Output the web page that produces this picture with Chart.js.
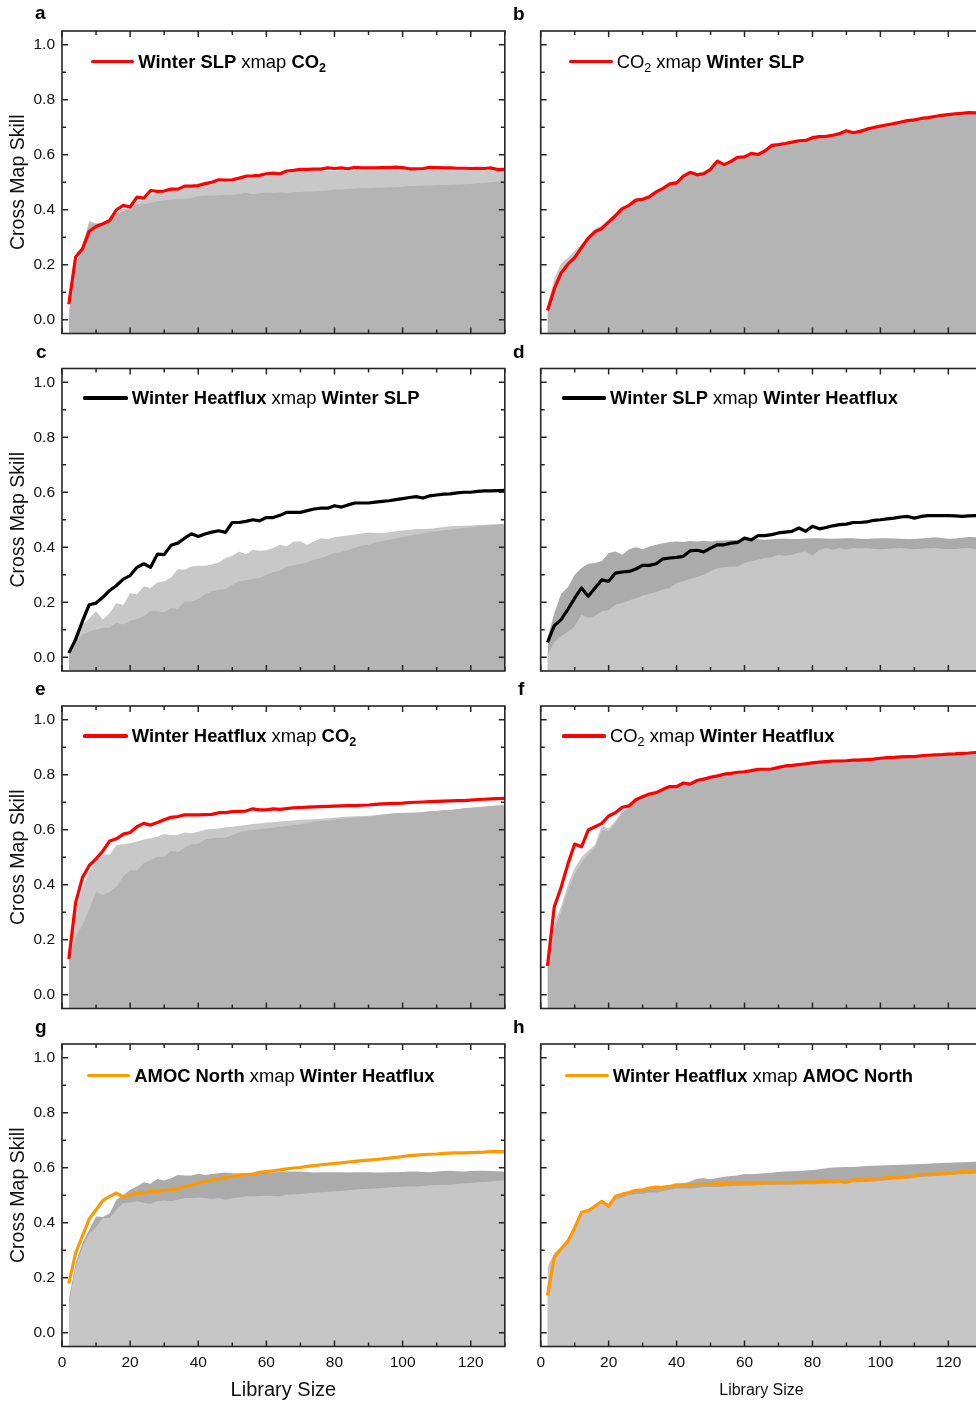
<!DOCTYPE html>
<html><head><meta charset="utf-8">
<script src="https://cdn.jsdelivr.net/npm/chart.js@4.4.1/dist/chart.umd.min.js"></script>
<style>
html,body{margin:0;padding:0;width:976px;height:1402px;overflow:hidden;background:#fff;font-family:"Liberation Sans",Arial,sans-serif;position:relative;}
canvas{position:absolute;}
.plet{position:absolute;font-weight:bold;font-size:19px;line-height:19px;color:#000;}
.sw{position:absolute;height:3.4px;border-radius:1.5px;}
.legt{position:absolute;font-size:18.4px;line-height:18px;white-space:nowrap;color:#000;}
.legt b{font-weight:bold;}
.legt sub{font-size:12.5px;line-height:0;vertical-align:-4px;}
</style></head>
<body>
<script>
// ---------- DATA ----------
const libSizes = [2,4,6,8,10,12,14,16,18,20,22,24,26,28,30,32,34,36,38,40,42,44,46,48,50,52,54,56,58,60,62,64,66,68,70,72,74,76,78,80,82,84,86,88,90,92,94,96,98,100,102,104,106,108,110,112,114,116,118,120,122,124,126,128,130];
const xTickLabels = [0,20,40,60,80,100,120];
const xMinorTicks = [10,30,50,70,90,110,130];
const yTickLabels = [0,0.2,0.4,0.6,0.8,1.0];
const yMinorTicks = [0.1,0.3,0.5,0.7,0.9];

// a: Winter SLP xmap CO2
const aLine = [0.056,0.228,0.258,0.322,0.339,0.349,0.361,0.400,0.416,0.410,0.446,0.442,0.470,0.467,0.468,0.475,0.475,0.486,0.486,0.488,0.495,0.500,0.509,0.508,0.509,0.515,0.522,0.523,0.525,0.531,0.533,0.531,0.541,0.543,0.547,0.547,0.548,0.548,0.552,0.550,0.552,0.549,0.554,0.552,0.552,0.552,0.553,0.553,0.555,0.553,0.549,0.549,0.550,0.554,0.553,0.552,0.552,0.551,0.551,0.550,0.551,0.550,0.552,0.546,0.547];
const aBack = [0.03,0.20,0.27,0.36,0.35,0.35,0.36,0.39,0.405,0.405,0.43,0.435,0.455,0.46,0.46,0.47,0.47,0.48,0.48,0.483,0.49,0.495,0.50,0.50,0.503,0.51,0.515,0.517,0.52,0.523,0.525,0.527,0.533,0.537,0.54,0.54,0.54,0.541,0.542,0.542,0.543,0.543,0.544,0.545,0.545,0.545,0.546,0.546,0.547,0.546,0.545,0.545,0.545,0.546,0.546,0.546,0.546,0.545,0.545,0.545,0.545,0.545,0.545,0.542,0.542];
const aFront = [0.0,0.19,0.27,0.35,0.35,0.35,0.365,0.385,0.395,0.405,0.418,0.42,0.425,0.43,0.435,0.437,0.44,0.44,0.442,0.45,0.452,0.452,0.453,0.455,0.455,0.456,0.462,0.456,0.46,0.462,0.462,0.464,0.462,0.465,0.465,0.466,0.466,0.468,0.47,0.474,0.474,0.476,0.476,0.479,0.478,0.48,0.48,0.482,0.482,0.484,0.486,0.486,0.488,0.488,0.49,0.49,0.491,0.492,0.493,0.494,0.496,0.497,0.5,0.502,0.503];

// b: CO2 xmap Winter SLP
const bLine = [0.034,0.112,0.17,0.202,0.226,0.262,0.297,0.32,0.332,0.355,0.379,0.404,0.416,0.435,0.438,0.447,0.465,0.478,0.494,0.498,0.522,0.536,0.527,0.531,0.547,0.577,0.564,0.576,0.591,0.592,0.605,0.601,0.614,0.634,0.637,0.641,0.646,0.651,0.652,0.662,0.666,0.667,0.671,0.677,0.687,0.68,0.685,0.693,0.699,0.704,0.709,0.713,0.719,0.724,0.727,0.732,0.735,0.739,0.743,0.746,0.749,0.751,0.753,0.752,0.753];
const bBack = [0.05,0.15,0.205,0.225,0.25,0.275,0.305,0.33,0.345,0.365,0.385,0.405,0.42,0.44,0.442,0.455,0.47,0.483,0.497,0.505,0.525,0.54,0.535,0.54,0.552,0.578,0.57,0.58,0.594,0.596,0.607,0.605,0.617,0.636,0.64,0.644,0.649,0.654,0.656,0.665,0.669,0.67,0.674,0.68,0.689,0.683,0.688,0.696,0.702,0.707,0.712,0.716,0.722,0.727,0.73,0.735,0.738,0.742,0.746,0.749,0.752,0.754,0.756,0.756,0.757];
const bFront = [0.02,0.10,0.16,0.195,0.22,0.255,0.29,0.315,0.328,0.35,0.375,0.4,0.412,0.43,0.434,0.443,0.46,0.474,0.49,0.494,0.518,0.53,0.523,0.527,0.543,0.572,0.56,0.572,0.587,0.588,0.601,0.597,0.61,0.63,0.633,0.637,0.642,0.647,0.648,0.658,0.662,0.663,0.667,0.673,0.683,0.676,0.681,0.689,0.695,0.7,0.705,0.709,0.715,0.72,0.723,0.728,0.731,0.735,0.739,0.742,0.745,0.747,0.749,0.748,0.749];

// c: Winter Heatflux xmap Winter SLP
const cLine = [0.016,0.065,0.131,0.191,0.197,0.218,0.243,0.261,0.284,0.297,0.327,0.34,0.327,0.375,0.373,0.407,0.415,0.433,0.449,0.439,0.448,0.455,0.46,0.454,0.49,0.49,0.494,0.50,0.496,0.508,0.508,0.516,0.527,0.527,0.527,0.533,0.539,0.542,0.542,0.551,0.546,0.554,0.561,0.561,0.561,0.564,0.567,0.569,0.573,0.577,0.581,0.584,0.579,0.587,0.59,0.593,0.594,0.598,0.60,0.60,0.603,0.605,0.605,0.606,0.607];
const cBack = [0.01,0.085,0.12,0.14,0.167,0.137,0.16,0.197,0.19,0.234,0.228,0.258,0.252,0.272,0.276,0.29,0.32,0.318,0.33,0.333,0.333,0.337,0.345,0.361,0.369,0.385,0.375,0.391,0.387,0.389,0.397,0.409,0.403,0.421,0.421,0.409,0.421,0.433,0.43,0.436,0.44,0.443,0.446,0.45,0.454,0.452,0.452,0.455,0.458,0.461,0.463,0.466,0.466,0.467,0.47,0.474,0.476,0.477,0.478,0.479,0.481,0.482,0.483,0.484,0.485];
const cFront = [0.004,0.055,0.082,0.094,0.10,0.107,0.107,0.125,0.119,0.133,0.139,0.149,0.167,0.167,0.163,0.179,0.176,0.203,0.203,0.212,0.228,0.24,0.246,0.246,0.264,0.276,0.28,0.285,0.288,0.30,0.309,0.315,0.33,0.334,0.34,0.345,0.355,0.361,0.369,0.379,0.383,0.39,0.397,0.406,0.409,0.418,0.422,0.427,0.433,0.437,0.441,0.446,0.45,0.455,0.458,0.462,0.464,0.467,0.47,0.472,0.476,0.478,0.481,0.483,0.485];

// d: Winter SLP xmap Winter Heatflux
const dLine = [0.054,0.115,0.137,0.174,0.215,0.252,0.222,0.252,0.282,0.276,0.306,0.31,0.312,0.321,0.334,0.334,0.34,0.358,0.361,0.363,0.367,0.387,0.389,0.383,0.397,0.409,0.409,0.415,0.418,0.433,0.427,0.442,0.442,0.446,0.452,0.455,0.458,0.47,0.458,0.476,0.467,0.472,0.478,0.482,0.484,0.49,0.49,0.492,0.498,0.50,0.503,0.506,0.51,0.512,0.506,0.512,0.515,0.515,0.515,0.515,0.514,0.512,0.514,0.515,0.515];
const dBack = [0.07,0.16,0.23,0.255,0.30,0.325,0.34,0.343,0.35,0.379,0.385,0.373,0.393,0.40,0.393,0.403,0.409,0.415,0.419,0.421,0.419,0.423,0.421,0.424,0.421,0.425,0.425,0.426,0.427,0.428,0.43,0.429,0.427,0.429,0.431,0.431,0.43,0.43,0.432,0.433,0.433,0.432,0.431,0.432,0.433,0.433,0.431,0.43,0.432,0.433,0.433,0.432,0.431,0.43,0.43,0.432,0.434,0.436,0.434,0.431,0.432,0.435,0.437,0.436,0.436];
const dFront = [0.01,0.055,0.076,0.092,0.113,0.155,0.143,0.151,0.167,0.171,0.191,0.197,0.206,0.215,0.225,0.231,0.237,0.246,0.252,0.27,0.276,0.285,0.292,0.30,0.315,0.324,0.327,0.33,0.33,0.343,0.349,0.355,0.361,0.364,0.373,0.369,0.373,0.381,0.385,0.37,0.39,0.397,0.391,0.397,0.391,0.397,0.396,0.397,0.395,0.393,0.395,0.396,0.397,0.395,0.393,0.395,0.396,0.397,0.395,0.393,0.394,0.396,0.397,0.393,0.394];

// e: Winter Heatflux xmap CO2
const eLine = [0.13,0.335,0.426,0.47,0.494,0.523,0.559,0.567,0.584,0.59,0.611,0.623,0.617,0.626,0.636,0.645,0.648,0.654,0.654,0.654,0.655,0.656,0.662,0.662,0.666,0.667,0.668,0.676,0.672,0.672,0.676,0.674,0.677,0.68,0.681,0.682,0.683,0.684,0.685,0.686,0.687,0.688,0.688,0.689,0.69,0.692,0.694,0.695,0.696,0.697,0.699,0.70,0.701,0.702,0.703,0.704,0.705,0.706,0.706,0.708,0.71,0.711,0.712,0.713,0.714];
const eBack = [0.15,0.30,0.39,0.45,0.48,0.51,0.51,0.545,0.547,0.551,0.557,0.565,0.569,0.575,0.585,0.581,0.581,0.59,0.587,0.593,0.60,0.603,0.605,0.609,0.611,0.615,0.617,0.621,0.623,0.626,0.627,0.63,0.632,0.634,0.636,0.637,0.638,0.64,0.642,0.644,0.646,0.648,0.649,0.65,0.651,0.653,0.656,0.658,0.66,0.661,0.662,0.663,0.665,0.668,0.669,0.671,0.672,0.675,0.678,0.68,0.682,0.684,0.686,0.688,0.69];
const eFront = [0.12,0.21,0.254,0.31,0.375,0.363,0.375,0.393,0.43,0.454,0.452,0.478,0.49,0.502,0.502,0.524,0.518,0.535,0.548,0.548,0.565,0.569,0.571,0.571,0.581,0.59,0.596,0.60,0.602,0.605,0.607,0.611,0.614,0.617,0.62,0.624,0.63,0.632,0.634,0.636,0.639,0.642,0.644,0.646,0.648,0.651,0.654,0.657,0.66,0.661,0.662,0.662,0.664,0.666,0.668,0.671,0.672,0.675,0.678,0.68,0.682,0.684,0.686,0.688,0.69];

// f: CO2 xmap Winter Heatflux
const fLine = [0.105,0.32,0.39,0.475,0.548,0.538,0.599,0.611,0.623,0.65,0.662,0.682,0.687,0.709,0.72,0.73,0.735,0.747,0.757,0.757,0.77,0.766,0.779,0.784,0.791,0.796,0.802,0.805,0.809,0.811,0.815,0.82,0.82,0.821,0.827,0.832,0.834,0.837,0.84,0.843,0.846,0.848,0.85,0.85,0.851,0.853,0.853,0.855,0.857,0.86,0.862,0.863,0.865,0.866,0.866,0.869,0.871,0.872,0.873,0.875,0.876,0.878,0.879,0.881,0.882];
const fBack = [0.12,0.26,0.32,0.40,0.46,0.50,0.525,0.545,0.615,0.605,0.633,0.668,0.685,0.708,0.72,0.731,0.738,0.75,0.76,0.762,0.774,0.772,0.785,0.79,0.796,0.80,0.806,0.809,0.813,0.815,0.818,0.823,0.824,0.826,0.831,0.836,0.838,0.841,0.844,0.847,0.85,0.852,0.854,0.855,0.856,0.858,0.859,0.86,0.862,0.864,0.866,0.867,0.869,0.87,0.871,0.873,0.875,0.876,0.877,0.879,0.88,0.882,0.883,0.885,0.886];
const fFront = [0.10,0.24,0.30,0.38,0.44,0.48,0.51,0.535,0.60,0.595,0.625,0.66,0.68,0.703,0.715,0.725,0.73,0.743,0.753,0.753,0.766,0.762,0.775,0.78,0.787,0.792,0.798,0.801,0.805,0.807,0.811,0.816,0.816,0.817,0.823,0.828,0.83,0.833,0.836,0.839,0.842,0.844,0.846,0.846,0.847,0.849,0.849,0.851,0.853,0.856,0.858,0.859,0.861,0.862,0.862,0.865,0.867,0.868,0.869,0.871,0.872,0.874,0.875,0.877,0.878];

// g: AMOC North xmap Winter Heatflux
const gLine = [0.179,0.29,0.351,0.414,0.447,0.481,0.496,0.508,0.493,0.502,0.508,0.508,0.514,0.514,0.518,0.52,0.524,0.532,0.537,0.544,0.55,0.555,0.56,0.564,0.569,0.573,0.575,0.577,0.583,0.586,0.589,0.592,0.596,0.599,0.601,0.605,0.608,0.611,0.613,0.616,0.618,0.621,0.623,0.626,0.628,0.63,0.632,0.635,0.638,0.641,0.644,0.646,0.648,0.649,0.65,0.652,0.653,0.654,0.654,0.655,0.656,0.657,0.659,0.659,0.659];
const gBack = [0.12,0.254,0.326,0.375,0.423,0.421,0.435,0.484,0.502,0.52,0.532,0.547,0.542,0.559,0.554,0.562,0.574,0.572,0.572,0.578,0.574,0.577,0.58,0.583,0.58,0.579,0.58,0.581,0.582,0.583,0.584,0.585,0.586,0.586,0.586,0.585,0.583,0.584,0.584,0.584,0.584,0.583,0.584,0.584,0.584,0.583,0.583,0.584,0.584,0.585,0.586,0.586,0.585,0.584,0.586,0.588,0.589,0.587,0.586,0.588,0.589,0.589,0.588,0.587,0.586];
const gFront = [0.10,0.24,0.31,0.36,0.385,0.417,0.417,0.447,0.472,0.474,0.478,0.472,0.469,0.478,0.481,0.478,0.484,0.49,0.49,0.492,0.49,0.486,0.49,0.484,0.489,0.492,0.496,0.496,0.497,0.498,0.497,0.496,0.502,0.503,0.505,0.507,0.51,0.511,0.513,0.514,0.516,0.518,0.52,0.523,0.524,0.525,0.526,0.528,0.53,0.531,0.532,0.532,0.534,0.536,0.537,0.538,0.538,0.541,0.544,0.545,0.547,0.548,0.55,0.553,0.554];

// h: Winter Heatflux xmap AMOC North
const hLine = [0.135,0.274,0.305,0.333,0.381,0.438,0.444,0.46,0.478,0.46,0.496,0.504,0.51,0.518,0.52,0.526,0.53,0.529,0.532,0.538,0.538,0.538,0.54,0.54,0.54,0.542,0.542,0.544,0.544,0.544,0.544,0.544,0.545,0.546,0.546,0.546,0.546,0.548,0.549,0.549,0.55,0.55,0.551,0.551,0.546,0.556,0.556,0.556,0.559,0.56,0.564,0.565,0.565,0.567,0.571,0.576,0.576,0.577,0.578,0.58,0.581,0.587,0.585,0.586,0.586];
const hBack = [0.18,0.29,0.31,0.34,0.39,0.43,0.44,0.455,0.47,0.47,0.49,0.50,0.505,0.515,0.52,0.527,0.53,0.535,0.537,0.54,0.543,0.55,0.56,0.562,0.558,0.563,0.567,0.57,0.572,0.577,0.576,0.578,0.58,0.582,0.585,0.586,0.587,0.588,0.59,0.592,0.595,0.598,0.601,0.602,0.603,0.603,0.605,0.606,0.607,0.608,0.609,0.61,0.611,0.612,0.613,0.614,0.615,0.616,0.617,0.618,0.619,0.62,0.621,0.622,0.623];
const hFront = [0.24,0.29,0.31,0.335,0.385,0.43,0.44,0.455,0.47,0.465,0.485,0.49,0.50,0.505,0.505,0.51,0.51,0.515,0.52,0.525,0.525,0.525,0.526,0.53,0.53,0.53,0.532,0.533,0.534,0.535,0.535,0.536,0.537,0.537,0.538,0.538,0.539,0.539,0.54,0.54,0.541,0.542,0.543,0.544,0.545,0.546,0.547,0.548,0.55,0.552,0.555,0.557,0.558,0.56,0.563,0.566,0.568,0.57,0.572,0.574,0.575,0.576,0.577,0.578,0.58];

// ---------- STYLE / LAYOUT ----------
const RED = '#ff0000', BLACK = '#000000', ORANGE = '#ff9900';
const DARK = '#b4b4b4', LIGHT = '#c8c8c8', DARK2 = '#ababab', LIGHT2 = '#c6c6c6';
const rowTops = [31, 368.5, 706, 1044];
const AREA_H = 302.5;
const cols = [
  {canvasLeft:0, canvasW:520, axisW:62, padRight:15.2},
  {canvasLeft:500, canvasW:500, axisW:40.7, padRight:17.7}
];
const panels = [
  {id:'a', row:0, col:0, line:aLine, back:aBack, front:aFront, lc:RED, bc:LIGHT, fc:DARK},
  {id:'b', row:0, col:1, line:bLine, back:bBack, front:bFront, lc:RED, bc:LIGHT, fc:DARK},
  {id:'c', row:1, col:0, line:cLine, back:cBack, front:cFront, lc:BLACK, bc:LIGHT, fc:DARK},
  {id:'d', row:1, col:1, line:dLine, back:dBack, front:dFront, lc:BLACK, bc:DARK2, fc:LIGHT2},
  {id:'e', row:2, col:0, line:eLine, back:eBack, front:eFront, lc:RED, bc:LIGHT, fc:DARK},
  {id:'f', row:2, col:1, line:fLine, back:fBack, front:fFront, lc:RED, bc:LIGHT, fc:DARK},
  {id:'g', row:3, col:0, line:gLine, back:gBack, front:gFront, lc:ORANGE, bc:DARK2, fc:LIGHT2},
  {id:'h', row:3, col:1, line:hLine, back:hBack, front:hFront, lc:ORANGE, bc:DARK2, fc:LIGHT2}
];
const legends = {
  a:{x:90.7, y:61.7, tx:138.3, html:'<b>Winter SLP</b> xmap <b>CO<sub>2</sub></b>'},
  b:{x:569, y:61.7, tx:616.7, html:'CO<sub>2</sub> xmap <b>Winter SLP</b>'},
  c:{x:83, y:398, tx:131.7, html:'<b>Winter Heatflux</b> xmap <b>Winter SLP</b>'},
  d:{x:562, y:398, tx:610, html:'<b>Winter SLP</b> xmap <b>Winter Heatflux</b>'},
  e:{x:83, y:736, tx:131.7, html:'<b>Winter Heatflux</b> xmap <b>CO<sub>2</sub></b>'},
  f:{x:562, y:736, tx:610, html:'CO<sub>2</sub> xmap <b>Winter Heatflux</b>'},
  g:{x:87, y:1075.3, tx:134.3, html:'<b>AMOC North</b> xmap <b>Winter Heatflux</b>'},
  h:{x:565, y:1075.3, tx:612.7, html:'<b>Winter Heatflux</b> xmap <b>AMOC North</b>'}
};
const letters = {a:[35,19.3], b:[513,20], c:[36,358.3], d:[513,358.3], e:[35,695], f:[518,695], g:[35,1033], h:[513,1033.3]};

Chart.defaults.font.family = '"Liberation Sans", Arial, sans-serif';
Chart.defaults.color = '#111';

const frameTicks = {
  id:'frameTicks',
  afterDraw(chart){
    const {ctx, chartArea:{left,right,top,bottom}, scales:{x,y}} = chart;
    ctx.save();
    ctx.strokeStyle = '#262626';
    ctx.lineWidth = 1.5;
    ctx.beginPath();
    const xt = (vals, len) => vals.forEach(v => { const p = x.getPixelForValue(v);
      ctx.moveTo(p, bottom); ctx.lineTo(p, bottom - len); ctx.moveTo(p, top); ctx.lineTo(p, top + len); });
    const yt = (vals, len) => vals.forEach(v => { const p = y.getPixelForValue(v);
      ctx.moveTo(left, p); ctx.lineTo(left + len, p); ctx.moveTo(right, p); ctx.lineTo(right - len, p); });
    xt(xTickLabels, 6); xt(xMinorTicks, 4);
    yt(yTickLabels, 6); yt(yMinorTicks, 4);
    ctx.stroke();
    ctx.lineWidth = 1.6;
    ctx.strokeRect(left, top, right - left, bottom - top);
    ctx.restore();
  }
};

const pts = vals => libSizes.map((x, i) => ({x, y: vals[i]}));

panels.forEach(p => {
  const col = cols[p.col];
  const rowTop = rowTops[p.row];
  const canvasTop = Math.floor(rowTop) - 10;
  const padTop = rowTop - canvasTop;
  const bottomRow = p.row === 3;
  const H = bottomRow ? 1402 - canvasTop : Math.ceil(padTop + AREA_H + 10);
  const xAxisH = H - padTop - AREA_H;
  const cv = document.createElement('canvas');
  cv.width = col.canvasW; cv.height = H;
  cv.style.left = col.canvasLeft + 'px'; cv.style.top = canvasTop + 'px';
  cv.style.width = col.canvasW + 'px'; cv.style.height = H + 'px';
  document.body.appendChild(cv);
  const leftCol = p.col === 0;
  new Chart(cv.getContext('2d'), {
    type:'line',
    data:{datasets:[
      {data:pts(p.line), borderColor:p.lc, borderWidth:3.2, pointRadius:0, tension:0, fill:false, order:0, borderJoinStyle:'round'},
      {data:pts(p.front), borderWidth:0, borderColor:'rgba(0,0,0,0)', backgroundColor:p.fc, pointRadius:0, tension:0, fill:'start', order:1},
      {data:pts(p.back), borderWidth:0, borderColor:'rgba(0,0,0,0)', backgroundColor:p.bc, pointRadius:0, tension:0, fill:'start', order:2}
    ]},
    options:{
      responsive:false, animation:false, devicePixelRatio:1,
      layout:{padding:{top:padTop, right:col.padRight, left:0, bottom:0}, autoPadding:false},
      plugins:{legend:{display:false}, tooltip:{enabled:false}},
      scales:{
        x:{type:'linear', min:0, max:130,
          grid:{display:false, drawTicks:false}, border:{display:false},
          afterBuildTicks: s => { s.ticks = xTickLabels.map(v => ({value:v})); },
          afterFit: s => { s.height = xAxisH; s.paddingLeft = 0; s.paddingRight = 0; },
          ticks:{display:bottomRow, autoSkip:false, maxRotation:0, padding:6.5, color:'#111',
                 font:{size:15.5}, callback: v => String(v)},
          title:{display:bottomRow, text:'Library Size', color:'#111',
                 font:{size: leftCol ? 20 : 16}, padding:{top:0, bottom: leftCol ? 0 : 2}}
        },
        y:{type:'linear', min:-0.05, max:1.05,
          grid:{display:false, drawTicks:false}, border:{display:false},
          afterBuildTicks: s => { s.ticks = yTickLabels.map(v => ({value:v})); },
          afterFit: s => { s.width = col.axisW; s.paddingTop = 0; s.paddingBottom = 0; },
          ticks:{display:leftCol, padding:7, color:'#111', font:{size:15.5}, callback: v => v.toFixed(1)},
          title:{display:leftCol, text:'Cross Map Skill', color:'#111', font:{size:19.5}, padding:{top:6.6, bottom:0}}
        }
      }
    },
    plugins:[frameTicks]
  });

  // panel letter
  const L = letters[p.id];
  const le = document.createElement('div');
  le.className = 'plet'; le.textContent = p.id;
  le.style.left = L[0] + 'px'; le.style.top = (L[1] - 16.1) + 'px';
  document.body.appendChild(le);

  // legend
  const g = legends[p.id];
  const sw = document.createElement('div');
  sw.className = 'sw'; sw.style.background = p.lc;
  sw.style.left = g.x + 'px'; sw.style.width = (g.tx - g.x - 4) + 'px'; sw.style.top = (g.y - 1.7) + 'px';
  document.body.appendChild(sw);
  const tx = document.createElement('div');
  tx.className = 'legt'; tx.innerHTML = g.html;
  tx.style.left = g.tx + 'px'; tx.style.top = (g.y - 8.6) + 'px';
  document.body.appendChild(tx);
});
</script>
</body></html>
